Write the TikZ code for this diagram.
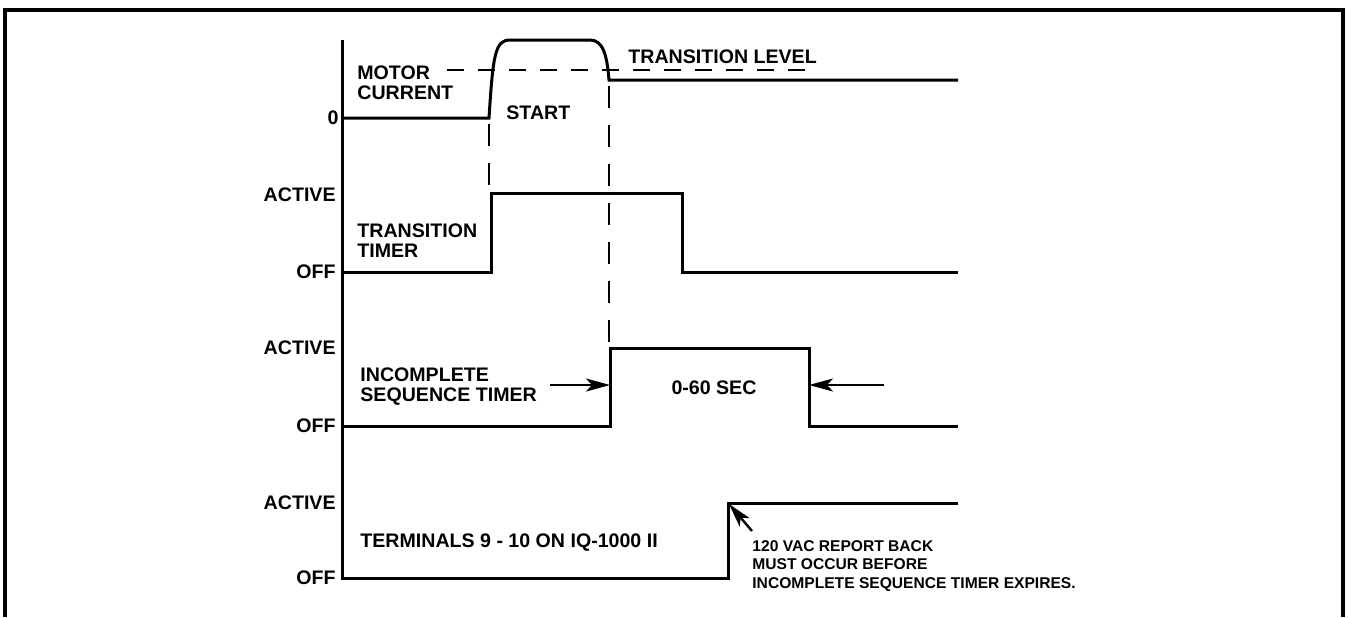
\documentclass[tikz,border=0pt]{standalone}
\usepackage{fontspec}
\setmainfont{Liberation Sans}
\usepackage{tikz}
\usetikzlibrary{arrows.meta, positioning}
\tikzset{
  frameline/.style={line width=2pt},
  axisline/.style={line width=1.5pt},
  wave/.style={line width=1.5pt},
  startguide/.style={line width=1.2pt, dash pattern=on 11pt off 8.5pt},
  levelguide/.style={line width=1.2pt, dash pattern=on 8.5pt off 7pt},
  lbl/.style={font=\fontsize{9.8}{10}\selectfont\bfseries, inner sep=0pt, align=left},
  lvl/.style={lbl, anchor=east},
  note/.style={font=\fontsize{7.8}{9.3}\selectfont\bfseries, inner sep=0pt, align=left},
  pointer/.style={-{Stealth[length=12pt,width=6.5pt,inset=3pt]}, line width=1.2pt}
}

\begin{document}
\begin{tikzpicture}[x=0.5pt, y=-0.5pt]
  \useasboundingbox (0,0) rectangle (1348,617);

  % Frame and time axis
  \draw[frameline] (5,617) -- (5,10) -- (1343,10) -- (1343,617);
  \draw[axisline] (342,40) -- (342,580);

  % Level labels
  \node[lvl] (zero)   at (339,118) {0};
  \node[lvl] (ttOn)   at (336,195) {ACTIVE};
  \node[lvl] (ttOff)  at (336,272) {OFF};
  \node[lvl] (istOn)  at (336,348) {ACTIVE};
  \node[lvl] (istOff) at (336,426) {OFF};
  \node[lvl] (trmOn)  at (336,503) {ACTIVE};
  \node[lvl] (trmOff) at (336,578) {OFF};

  % Motor current
  \draw[wave] (342,118) -- (489,118)
    .. controls (493,55) and (495,40) .. (510,40) -- (590,40)
    .. controls (603,40) and (607,55) .. (609,80) -- (958,80);
  \draw[levelguide] (447,70) -- (808,70);
  \node[lbl, anchor=west] (motor) at (357,83) {MOTOR\\CURRENT};
  \node[lbl, anchor=west] (start) at (506,113) {START};
  \node[lbl, anchor=west] (level) at (628,57) {TRANSITION LEVEL};
  \draw[startguide] (489,124) -- (489,193);
  \draw[startguide] (609,86) -- (609,348);

  % Transition timer
  \draw[wave] (342,272) -- (491,272) -- (491,193) -- (682,193)
    -- (682,272) -- (958,272);
  \node[lbl, anchor=west] (ttName) at (357,241) {TRANSITION\\TIMER};

  % Incomplete sequence timer
  \draw[wave] (342,426) -- (610,426) -- (610,348) -- (809,348)
    -- (809,426) -- (958,426);
  \node[lbl, anchor=west] (istName) at (360,387) {INCOMPLETE\\SEQUENCE TIMER};
  \node[lbl] (span) at (714,388) {0-60 SEC};
  \coordinate (istIn)   at (550,385);
  \coordinate (istRise) at (610,385);
  \coordinate (istOut)  at (884,385);
  \coordinate (istFall) at (809,385);
  \draw[pointer] (istIn) -- (istRise);
  \draw[pointer] (istOut) -- (istFall);

  % Terminals 9 - 10
  \draw[wave] (342,578) -- (728,578) -- (728,503) -- (958,503);
  \node[lbl, anchor=west] (trmName) at (360,543) {TERMINALS 9 - 10 ON IQ-1000 II};
  \coordinate (vacTip)  at (729,504);
  \coordinate (vacTail) at (752,531);
  \draw[pointer] (vacTail) -- (vacTip);
  \node[note, anchor=north west] (vacNote) at (752,540)
    {120 VAC REPORT BACK\\MUST OCCUR BEFORE\\INCOMPLETE SEQUENCE TIMER EXPIRES.};
\end{tikzpicture}
\end{document}
